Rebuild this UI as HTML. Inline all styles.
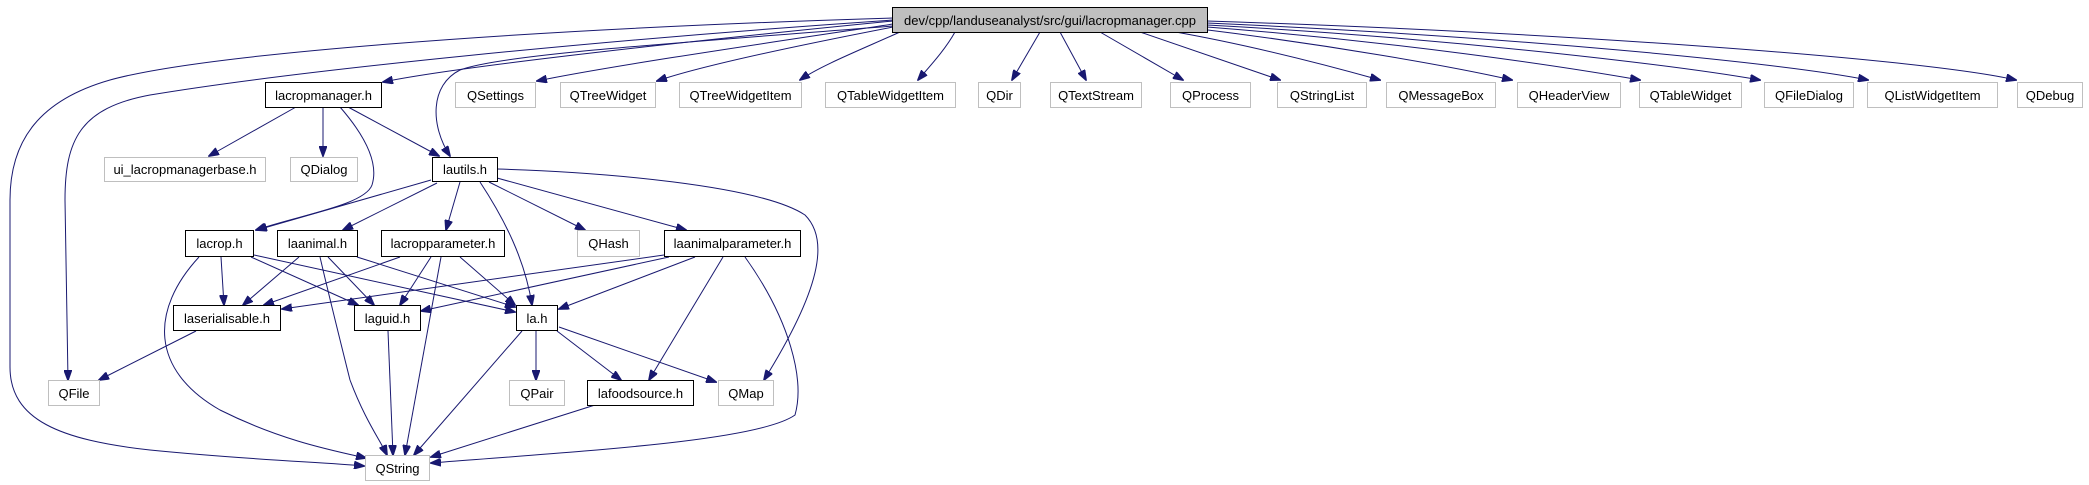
<!DOCTYPE html>
<html><head><meta charset="utf-8"><style>
html,body{margin:0;padding:0;background:#fff;}
svg{display:block;}
text{font-family:"Liberation Sans",Arial,sans-serif;font-size:13px;fill:#000;}
.e{fill:none;stroke:#191970;stroke-width:1;marker-end:url(#a);}
.g{fill:#fff;stroke:#bfbfbf;stroke-width:1;}
.b{fill:#fff;stroke:#000;stroke-width:1;}
</style></head><body>
<svg width="2089" height="485" viewBox="0 0 2089 485" xmlns="http://www.w3.org/2000/svg">
<defs><marker id="a" markerUnits="userSpaceOnUse" markerWidth="11" markerHeight="8" refX="10" refY="4" orient="auto"><path d="M0,0 L11,4 L0,8 z" fill="#191970" stroke="#191970"/></marker></defs>
<!-- edges from root -->
<path class="e" d="M893,21 C700,40 460,66 383,82"/>
<path class="e" d="M893,24 C760,44 610,66 537,81"/>
<path class="e" d="M893,27 C800,45 700,66 657,81"/>
<path class="e" d="M900,32 C860,50 820,66 800,80"/>
<path class="e" d="M955,32 C945,50 930,66 918,80"/>
<path class="e" d="M1040,32 L1012,80"/>
<path class="e" d="M1060,32 L1086,80"/>
<path class="e" d="M1100,32 L1183,80"/>
<path class="e" d="M1140,32 L1280,80"/>
<path class="e" d="M1170,31 C1250,45 1330,66 1380,80"/>
<path class="e" d="M1200,29 C1330,45 1450,66 1512,80"/>
<path class="e" d="M1207,27 C1400,42 1560,66 1640,80"/>
<path class="e" d="M1207,25 C1450,38 1680,66 1760,80"/>
<path class="e" d="M1207,23 C1500,36 1780,62 1868,80"/>
<path class="e" d="M1207,21 C1550,32 1920,58 2016,80"/>
<path class="e" d="M893,26 C650,45 500,55 460,70 C430,85 430,125 450,156"/>
<path class="e" d="M893,20 C600,40 300,70 150,95 C80,108 65,140 65,200 L68,380"/>
<path class="e" d="M893,18 C500,30 200,55 110,80 C40,100 10,140 10,200 L10,367 C10,420 60,440 150,450 C250,460 320,462 364,466"/>
<!-- lacropmanager.h -->
<path class="e" d="M296,107 L209,156"/>
<path class="e" d="M323,107 L323,156"/>
<path class="e" d="M348,107 L439,156"/>
<path class="e" d="M340,107 C360,130 380,160 372,185 C365,205 300,215 256,230"/>
<!-- lautils.h -->
<path class="e" d="M431,180 L257,230"/>
<path class="e" d="M437,183 L343,230"/>
<path class="e" d="M460,182 L446,230"/>
<path class="e" d="M489,182 L585,230"/>
<path class="e" d="M497,178 L686,230"/>
<path class="e" d="M480,182 C505,220 525,260 532,305"/>
<path class="e" d="M497,169 C600,172 760,185 805,215 C830,240 820,290 764,380"/>
<!-- lacrop.h -->
<path class="e" d="M221,257 L224,305"/>
<path class="e" d="M251,257 L358,305"/>
<path class="e" d="M254,255 L515,312"/>
<path class="e" d="M199,257 C150,310 150,370 220,410 C280,440 330,450 366,458"/>
<!-- laanimal.h -->
<path class="e" d="M299,257 L243,305"/>
<path class="e" d="M328,257 L374,305"/>
<path class="e" d="M357,257 L515,307"/>
<path class="e" d="M320,257 C330,300 340,340 350,380 C365,420 380,440 387,455"/>
<!-- lacropparameter.h -->
<path class="e" d="M400,257 L264,305"/>
<path class="e" d="M431,257 L400,305"/>
<path class="e" d="M460,257 L515,305"/>
<path class="e" d="M441,257 L405,455"/>
<!-- laanimalparameter.h -->
<path class="e" d="M664,255 L282,309"/>
<path class="e" d="M669,257 L421,311"/>
<path class="e" d="M695,257 L559,309"/>
<path class="e" d="M723,257 L649,380"/>
<path class="e" d="M745,257 C790,320 805,380 795,415 C760,440 600,450 431,463"/>
<!-- others -->
<path class="e" d="M196,331 L99,380"/>
<path class="e" d="M388,331 L393,455"/>
<path class="e" d="M536,331 L536,380"/>
<path class="e" d="M557,331 L621,380"/>
<path class="e" d="M559,327 L716,382"/>
<path class="e" d="M522,331 L414,455"/>
<path class="e" d="M595,405 L431,457"/>
<!-- nodes -->
<rect x="892.5" y="7.5" width="315" height="25" fill="#bfbfbf" stroke="#000"/>
<text x="1050" y="25" text-anchor="middle">dev/cpp/landuseanalyst/src/gui/lacropmanager.cpp</text>
<g>
<rect class="b" x="265.5" y="82.5" width="116" height="25"/><text x="323.5" y="100" text-anchor="middle">lacropmanager.h</text>
<rect class="g" x="455.5" y="82.5" width="80" height="25"/><text x="495.5" y="100" text-anchor="middle">QSettings</text>
<rect class="g" x="560.5" y="82.5" width="95" height="25"/><text x="608" y="100" text-anchor="middle">QTreeWidget</text>
<rect class="g" x="679.5" y="82.5" width="122" height="25"/><text x="740.5" y="100" text-anchor="middle">QTreeWidgetItem</text>
<rect class="g" x="825.5" y="82.5" width="130" height="25"/><text x="890.5" y="100" text-anchor="middle">QTableWidgetItem</text>
<rect class="g" x="978.5" y="82.5" width="42" height="25"/><text x="999.5" y="100" text-anchor="middle">QDir</text>
<rect class="g" x="1050.5" y="82.5" width="91" height="25"/><text x="1096" y="100" text-anchor="middle">QTextStream</text>
<rect class="g" x="1170.5" y="82.5" width="80" height="25"/><text x="1210.5" y="100" text-anchor="middle">QProcess</text>
<rect class="g" x="1277.5" y="82.5" width="89" height="25"/><text x="1322" y="100" text-anchor="middle">QStringList</text>
<rect class="g" x="1386.5" y="82.5" width="109" height="25"/><text x="1441" y="100" text-anchor="middle">QMessageBox</text>
<rect class="g" x="1517.5" y="82.5" width="103" height="25"/><text x="1569" y="100" text-anchor="middle">QHeaderView</text>
<rect class="g" x="1639.5" y="82.5" width="102" height="25"/><text x="1690.5" y="100" text-anchor="middle">QTableWidget</text>
<rect class="g" x="1764.5" y="82.5" width="89" height="25"/><text x="1809" y="100" text-anchor="middle">QFileDialog</text>
<rect class="g" x="1867.5" y="82.5" width="130" height="25"/><text x="1932.5" y="100" text-anchor="middle">QListWidgetItem</text>
<rect class="g" x="2017.5" y="82.5" width="65" height="25"/><text x="2050" y="100" text-anchor="middle">QDebug</text>
<rect class="g" x="104.5" y="157.5" width="161" height="24"/><text x="185" y="174" text-anchor="middle">ui_lacropmanagerbase.h</text>
<rect class="g" x="290.5" y="157.5" width="67" height="24"/><text x="324" y="174" text-anchor="middle">QDialog</text>
<rect class="b" x="432.5" y="157.5" width="65" height="24"/><text x="465" y="174" text-anchor="middle">lautils.h</text>
<rect class="b" x="185.5" y="230.5" width="68" height="26"/><text x="219.5" y="248" text-anchor="middle">lacrop.h</text>
<rect class="b" x="277.5" y="230.5" width="80" height="26"/><text x="317.5" y="248" text-anchor="middle">laanimal.h</text>
<rect class="b" x="381.5" y="230.5" width="123" height="26"/><text x="443" y="248" text-anchor="middle">lacropparameter.h</text>
<rect class="g" x="577.5" y="230.5" width="62" height="26"/><text x="608.5" y="248" text-anchor="middle">QHash</text>
<rect class="b" x="664.5" y="230.5" width="136" height="26"/><text x="732.5" y="248" text-anchor="middle">laanimalparameter.h</text>
<rect class="b" x="173.5" y="305.5" width="107" height="25"/><text x="227" y="323" text-anchor="middle">laserialisable.h</text>
<rect class="b" x="354.5" y="305.5" width="66" height="25"/><text x="387.5" y="323" text-anchor="middle">laguid.h</text>
<rect class="b" x="516.5" y="305.5" width="41" height="25"/><text x="537" y="323" text-anchor="middle">la.h</text>
<rect class="g" x="48.5" y="380.5" width="51" height="25"/><text x="74" y="398" text-anchor="middle">QFile</text>
<rect class="g" x="509.5" y="380.5" width="55" height="25"/><text x="537" y="398" text-anchor="middle">QPair</text>
<rect class="b" x="587.5" y="380.5" width="106" height="25"/><text x="640.5" y="398" text-anchor="middle">lafoodsource.h</text>
<rect class="g" x="718.5" y="380.5" width="55" height="25"/><text x="746" y="398" text-anchor="middle">QMap</text>
<rect class="g" x="365.5" y="455.5" width="64" height="25"/><text x="397.5" y="473" text-anchor="middle">QString</text>
</g>
</svg>
</body></html>
